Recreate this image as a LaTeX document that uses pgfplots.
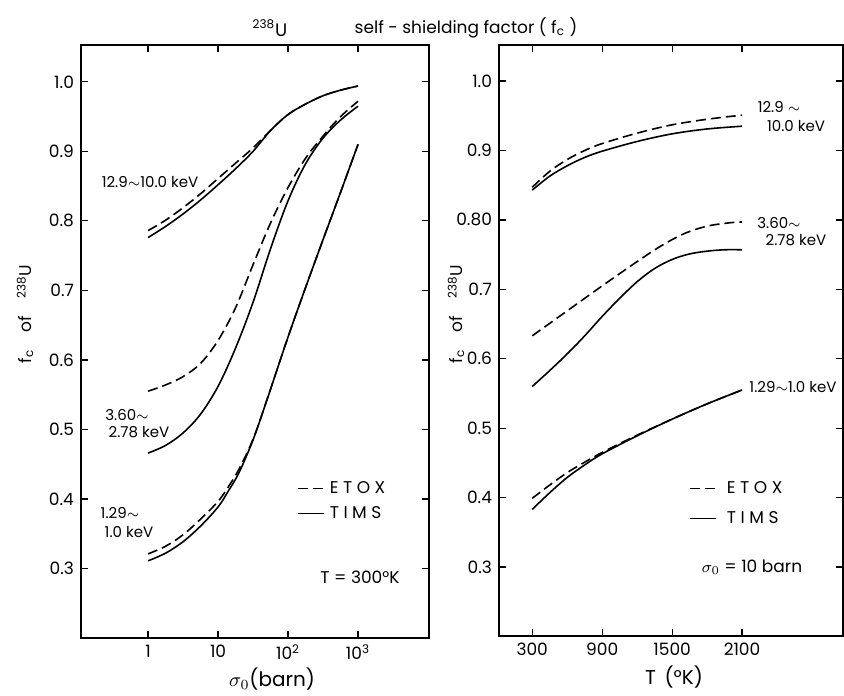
\documentclass[border=0pt]{standalone}
\usepackage{fontspec}
\setmainfont{Poppins}
\usepackage{pgfplots}
\pgfplotsset{compat=1.18}

\pgfplotstableread{
x y
1 0.776
1.778 0.792
3.162 0.810
5.623 0.830
10 0.852
17.78 0.875
31.62 0.900
56.23 0.930
100 0.953
177.8 0.968
316.2 0.980
562.3 0.988
1000 0.994
}\upTIMS
\pgfplotstableread{
x y
1 0.786
1.778 0.801
3.162 0.819
5.623 0.839
10 0.861
17.78 0.883
31.62 0.905
56.23 0.930
100 0.953
177.8 0.968
316.2 0.980
562.3 0.988
1000 0.994
}\upETOX
\pgfplotstableread{
x y
1 0.466
1.778 0.477
3.162 0.495
5.623 0.522
10 0.562
17.78 0.617
31.62 0.683
56.23 0.760
100 0.829
177.8 0.882
316.2 0.919
562.3 0.945
1000 0.965
}\midTIMS
\pgfplotstableread{
x y
1 0.555
1.778 0.564
3.162 0.576
5.623 0.595
10 0.628
17.78 0.675
31.62 0.737
56.23 0.797
100 0.848
177.8 0.890
316.2 0.922
562.3 0.950
1000 0.972
}\midETOX
\pgfplotstableread{
x y
1 0.311
1.778 0.322
3.162 0.3385
5.623 0.361
10 0.3885
14.13 0.412
19.95 0.438
31.62 0.485
50.12 0.543
100 0.633
177.8 0.704
316.2 0.773
562.3 0.841
1000 0.910
}\loTIMS
\pgfplotstableread{
x y
1 0.321
1.778 0.332
3.162 0.3485
5.623 0.371
10 0.3965
14.13 0.418
19.95 0.443
31.62 0.486
50.12 0.543
100 0.633
177.8 0.704
316.2 0.773
562.3 0.841
1000 0.910
}\loETOX

\pgfplotstableread{
T y
300 0.843
450 0.863
600 0.878
750 0.890
900 0.899
1200 0.913
1500 0.924
1800 0.931
2100 0.935
}\TupTIMS
\pgfplotstableread{
T y
300 0.847
450 0.870
600 0.887
750 0.900
900 0.910
1200 0.925
1500 0.937
1800 0.945
2100 0.951
}\TupETOX
\pgfplotstableread{
T y
300 0.560
450 0.583
600 0.607
750 0.633
900 0.661
1050 0.687
1200 0.711
1350 0.730
1500 0.743
1650 0.751
1800 0.755
1950 0.757
2100 0.757
}\TmidTIMS
\pgfplotstableread{
T y
300 0.633
600 0.669
900 0.705
1200 0.740
1400 0.762
1600 0.780
1800 0.791
2000 0.796
2100 0.797
}\TmidETOX
\pgfplotstableread{
T y
300 0.383
450 0.407
600 0.429
750 0.447
900 0.463
1200 0.489
1500 0.513
1800 0.535
2100 0.555
}\TloTIMS
\pgfplotstableread{
T y
300 0.399
450 0.418
600 0.436
750 0.451
900 0.465
1200 0.490
1500 0.513
1800 0.535
2100 0.555
}\TloETOX

\begin{document}
\begin{tikzpicture}
\useasboundingbox (0pt,0pt) rectangle (422pt,347.5pt);
\pgfplotsset{
  every axis/.append style={
    scale only axis,
    axis line style={line width=0.9pt},
    every tick/.style={black, line width=0.6pt},
    major tick length=3.5pt,
    tick label style={font=\fontsize{8.5}{10}\selectfont},
    /pgf/number format/assume math mode=true,
    ytick={0.3,0.4,0.5,0.6,0.7,0.8,0.9,1.0},
    legend cell align=left,
    legend image code/.code={\draw[#1] (0pt,0pt) -- (13pt,0pt);},
  },
  curve/.style={black, line width=0.8pt, smooth, tension=0.55},
  etox/.style={curve, dash pattern=on 5pt off 2.5pt},
}
% left panel
\begin{axis}[at={(40.5pt,28.5pt)}, anchor=south west, width=174pt, height=296.5pt,
  xmode=log, xmin=0.11, xmax=10330, ymin=0.2, ymax=1.053,
  xtick={1,10,100,1000}, xticklabels={1,10,10\textsuperscript{2},10\textsuperscript{3}},
  xminorticks=false,
  yticklabels={0.3,0.4,0.5,0.6,0.7,0.8,0.9,1.0},
  legend style={draw=none, fill=none, at={(0.62,0.231)}, anchor=west,
    font=\fontsize{8.5}{10}\selectfont, inner sep=0pt, row sep=3pt,
    nodes={inner sep=1pt}, column sep=1.5pt}]
\addlegendimage{etox}\addlegendentry{E T O X}
\addlegendimage{curve}\addlegendentry{T I M S}
\addplot[etox, forget plot] table[x=x,y=y] {\upETOX};
\addplot[curve, forget plot] table[x=x,y=y] {\upTIMS};
\addplot[etox, forget plot] table[x=x,y=y] {\midETOX};
\addplot[curve, forget plot] table[x=x,y=y] {\midTIMS};
\addplot[etox, forget plot] table[x=x,y=y] {\loETOX};
\addplot[curve, forget plot] table[x=x,y=y] {\loTIMS};
\end{axis}
% right panel
\begin{axis}[at={(249.5pt,29.5pt)}, anchor=south west, width=172pt, height=295.5pt,
  xmin=15, xmax=2966, ymin=0.2006, ymax=1.052,
  xtick={300,900,1500,2100}, xticklabels={300,900,1500,2100},
  yticklabels={0.3,0.4,0.5,0.6,0.7,0.80,0.9,1.0},
  legend style={draw=none, fill=none, at={(0.552,0.224)}, anchor=west,
    font=\fontsize{8.5}{10}\selectfont, inner sep=0pt, row sep=5.5pt,
    nodes={inner sep=1pt}, column sep=4pt}]
\addlegendimage{etox}\addlegendentry{E T O X}
\addlegendimage{curve}\addlegendentry{T I M S}
\addplot[etox, forget plot] table[x=T,y=y] {\TupETOX};
\addplot[curve, forget plot] table[x=T,y=y] {\TupTIMS};
\addplot[etox, forget plot] table[x=T,y=y] {\TmidETOX};
\addplot[curve, forget plot] table[x=T,y=y] {\TmidTIMS};
\addplot[etox, forget plot] table[x=T,y=y] {\TloETOX};
\addplot[curve, forget plot] table[x=T,y=y] {\TloTIMS};
\end{axis}

% title
\node[font=\fontsize{9}{10}\selectfont] at (135pt,333.5pt) {\textsuperscript{238}U};
\node[font=\fontsize{8.5}{10}\selectfont] at (233pt,333.5pt) {self - shielding factor ( f\textsubscript{c} )};
% axis labels
\node[font=\fontsize{10}{12}\selectfont] at (136pt,8pt) {$\sigma_0$(barn)};
\node[font=\fontsize{10}{12}\selectfont] at (337pt,9pt) {T \,(°K)};
\node[rotate=90, font=\fontsize{8.5}{10}\selectfont] at (12.5pt,190.5pt) {f\textsubscript{c}\quad of\quad \textsuperscript{238}U};
\node[rotate=90, font=\fontsize{8.5}{10}\selectfont] at (228pt,190.5pt) {f\textsubscript{c}\quad of\quad \textsuperscript{238}U};
% curve labels
\begin{scope}[every node/.style={font=\fontsize{7.5}{9}\selectfont, inner sep=0pt}]
\node at (75pt,256.5pt) {12.9$\sim$10.0 keV};
\node at (63.5pt,140pt) {3.60$\sim$};
\node at (69.5pt,131.5pt) {2.78 keV};
\node at (60pt,91pt) {1.29$\sim$};
\node at (64.5pt,81.5pt) {1.0 keV};
\node[font=\fontsize{8.5}{10}\selectfont] at (180pt,59pt) {T = 300°K};
\node at (389.5pt,294pt) {12.9 $\sim$};
\node at (398pt,284.5pt) {10.0 keV};
\node at (389.5pt,236pt) {3.60$\sim$};
\node at (398pt,227.5pt) {2.78 keV};
\node at (396.5pt,154pt) {1.29$\sim$1.0 keV};
\node[font=\fontsize{8.5}{10}\selectfont] at (376pt,64pt) {$\sigma_0$ = 10 barn};
\end{scope}
\end{tikzpicture}
\end{document}
